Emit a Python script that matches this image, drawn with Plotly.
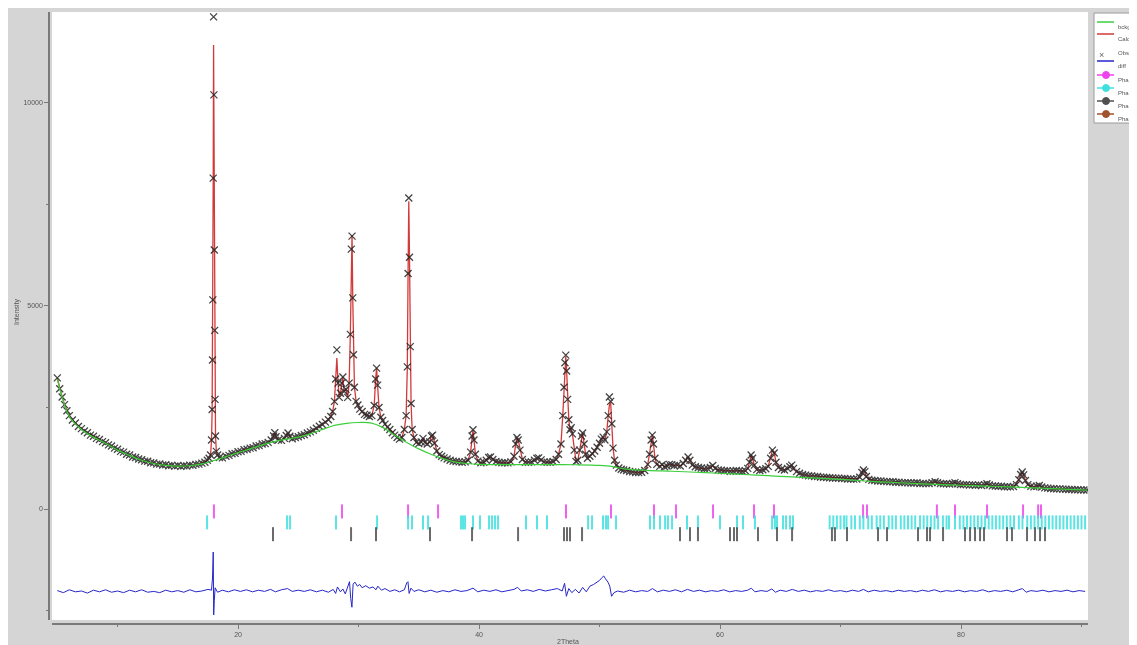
import plotly.graph_objects as go

# ---------------- data ----------------
# observed pattern: (2theta, intensity)
obs_points = [
    (5.0, 3230), (5.2, 2960), (5.4, 2760), (5.6, 2570), (5.8, 2420), (6.0, 2300), (6.25, 2190), (6.5, 2120),
    (6.75, 2030), (7.0, 1980), (7.25, 1920), (7.5, 1880), (7.75, 1820), (8.0, 1790), (8.25, 1740), (8.5, 1710),
    (8.75, 1660), (9.0, 1630), (9.25, 1580), (9.5, 1550), (9.75, 1500), (10.0, 1470), (10.25, 1420), (10.5, 1400),
    (10.75, 1350), (11.0, 1330), (11.25, 1280), (11.5, 1270), (11.75, 1230), (12.0, 1215), (12.25, 1180), (12.5, 1175),
    (12.75, 1140), (13.0, 1135), (13.25, 1105), (13.5, 1110), (13.75, 1085), (14.0, 1090), (14.25, 1065), (14.5, 1075),
    (14.75, 1055), (15.0, 1070), (15.25, 1050), (15.5, 1065), (15.75, 1060), (16.0, 1080), (16.25, 1075), (16.5, 1100),
    (16.75, 1105), (17.0, 1130), (17.25, 1150), (17.45, 1200), (17.6, 1250), (17.72, 1330), (17.8, 1700), (17.85, 2450),
    (17.88, 3670), (17.91, 5150), (17.94, 8150), (17.97, 12120), (18.0, 10200), (18.03, 6380), (18.06, 4400), (18.09, 2700),
    (18.13, 1800), (18.2, 1420), (18.3, 1330), (18.45, 1270), (18.7, 1260), (19.0, 1300), (19.25, 1320), (19.5, 1360),
    (19.75, 1370), (20.0, 1410), (20.25, 1420), (20.5, 1460), (20.75, 1470), (21.0, 1500), (21.25, 1510), (21.5, 1550),
    (21.75, 1560), (22.0, 1600), (22.25, 1610), (22.5, 1640), (22.75, 1700), (22.95, 1800), (23.05, 1880), (23.15, 1780),
    (23.35, 1700), (23.6, 1690), (23.85, 1740), (24.0, 1810), (24.15, 1870), (24.3, 1790), (24.5, 1730), (24.75, 1760),
    (25.0, 1780), (25.25, 1810), (25.5, 1830), (25.75, 1870), (26.0, 1900), (26.25, 1940), (26.5, 1990), (26.75, 2040),
    (27.0, 2080), (27.25, 2140), (27.5, 2200), (27.7, 2280), (27.85, 2400), (28.0, 2650), (28.1, 3200), (28.2, 3920),
    (28.3, 3100), (28.4, 2750), (28.5, 2850), (28.6, 3100), (28.7, 3250), (28.8, 2900), (28.95, 2950), (29.1, 2750),
    (29.22, 3100), (29.32, 4300), (29.4, 6400), (29.46, 6720), (29.52, 5200), (29.58, 3800), (29.66, 3000), (29.8, 2650),
    (29.95, 2560), (30.1, 2460), (30.3, 2400), (30.5, 2330), (30.7, 2310), (30.9, 2280), (31.1, 2300), (31.3, 2550),
    (31.42, 3200), (31.5, 3470), (31.58, 3050), (31.7, 2500), (31.85, 2260), (32.0, 2180), (32.2, 2090), (32.4, 2020),
    (32.6, 1960), (32.8, 1880), (33.0, 1820), (33.2, 1760), (33.4, 1720), (33.6, 1760), (33.8, 1960), (33.95, 2300),
    (34.05, 3500), (34.11, 5800), (34.17, 7660), (34.23, 6200), (34.29, 4000), (34.36, 2600), (34.45, 1960), (34.6, 1760),
    (34.8, 1640), (35.0, 1610), (35.2, 1650), (35.35, 1740), (35.5, 1640), (35.7, 1600), (35.9, 1650), (36.05, 1800),
    (36.15, 1820), (36.3, 1620), (36.5, 1430), (36.7, 1340), (36.9, 1300), (37.1, 1260), (37.35, 1230), (37.6, 1200),
    (37.85, 1180), (38.1, 1170), (38.35, 1160), (38.6, 1150), (38.85, 1160), (39.1, 1200), (39.3, 1400), (39.42, 1800),
    (39.5, 1950), (39.58, 1700), (39.7, 1350), (39.9, 1180), (40.15, 1140), (40.4, 1150), (40.6, 1200), (40.8, 1270),
    (40.95, 1280), (41.15, 1220), (41.4, 1170), (41.65, 1150), (41.9, 1140), (42.15, 1140), (42.4, 1135), (42.65, 1160),
    (42.9, 1300), (43.05, 1600), (43.15, 1760), (43.25, 1700), (43.4, 1450), (43.6, 1220), (43.85, 1150), (44.1, 1150),
    (44.35, 1160), (44.6, 1200), (44.8, 1250), (44.95, 1260), (45.15, 1210), (45.4, 1160), (45.65, 1150), (45.9, 1150),
    (46.15, 1170), (46.4, 1220), (46.6, 1350), (46.8, 1600), (46.95, 2300), (47.05, 3000), (47.13, 3600), (47.2, 3790),
    (47.27, 3400), (47.35, 2700), (47.45, 2200), (47.55, 1950), (47.65, 2000), (47.75, 1850), (47.9, 1450), (48.05, 1170),
    (48.2, 1200), (48.35, 1450), (48.5, 1800), (48.6, 1870), (48.72, 1600), (48.85, 1350), (49.0, 1250), (49.2, 1300),
    (49.4, 1360), (49.6, 1430), (49.8, 1520), (50.0, 1620), (50.15, 1720), (50.3, 1770), (50.45, 1700), (50.6, 1900),
    (50.72, 2300), (50.82, 2760), (50.92, 2650), (51.02, 2100), (51.12, 1500), (51.25, 1200), (51.4, 1080), (51.6, 1010),
    (51.8, 980), (52.0, 960), (52.25, 950), (52.5, 925), (52.75, 915), (53.0, 900), (53.25, 895), (53.5, 905),
    (53.75, 950), (54.0, 1100), (54.15, 1350), (54.28, 1700), (54.38, 1820), (54.48, 1600), (54.6, 1250), (54.75, 1100),
    (55.0, 1050), (55.2, 1090), (55.4, 1040), (55.6, 1060), (55.8, 1100), (56.0, 1090), (56.2, 1070), (56.45, 1080),
    (56.7, 1060), (56.95, 1120), (57.15, 1200), (57.35, 1280), (57.5, 1200), (57.7, 1080), (57.95, 1040), (58.2, 1020),
    (58.45, 1010), (58.7, 990), (58.95, 1000), (59.2, 1020), (59.4, 1070), (59.6, 1000), (59.85, 960), (60.1, 955),
    (60.35, 940), (60.6, 945), (60.85, 930), (61.1, 935), (61.35, 950), (61.6, 935), (61.85, 930), (62.1, 940),
    (62.3, 1000), (62.45, 1150), (62.58, 1330), (62.7, 1250), (62.85, 1080), (63.05, 970), (63.3, 950), (63.55, 965),
    (63.8, 990), (64.0, 1050), (64.2, 1250), (64.35, 1450), (64.5, 1380), (64.65, 1150), (64.85, 1020), (65.1, 980),
    (65.35, 960), (65.6, 1000), (65.8, 1040), (65.95, 1080), (66.1, 1000), (66.35, 920), (66.6, 880), (66.85, 850),
    (67.1, 835), (67.35, 820), (67.6, 815), (67.85, 800), (68.1, 800), (68.35, 785), (68.6, 780), (68.85, 775),
    (69.1, 770), (69.35, 765), (69.6, 760), (69.85, 760), (70.1, 750), (70.35, 750), (70.6, 740), (70.85, 740),
    (71.1, 735), (71.35, 740), (71.6, 780), (71.78, 900), (71.9, 960), (72.02, 920), (72.15, 800), (72.35, 730),
    (72.6, 710), (72.85, 700), (73.1, 690), (73.35, 690), (73.6, 680), (73.85, 675), (74.1, 670), (74.35, 670),
    (74.6, 660), (74.85, 660), (75.1, 650), (75.35, 650), (75.6, 645), (75.85, 640), (76.1, 640), (76.35, 645),
    (76.6, 630), (76.85, 630), (77.1, 625), (77.35, 630), (77.6, 650), (77.85, 670), (78.05, 650), (78.3, 630),
    (78.55, 620), (78.8, 620), (79.05, 615), (79.3, 630), (79.5, 650), (79.7, 620), (79.95, 605), (80.2, 600),
    (80.45, 600), (80.7, 590), (80.95, 595), (81.2, 585), (81.45, 590), (81.7, 580), (81.95, 600), (82.15, 620),
    (82.35, 590), (82.6, 570), (82.85, 565), (83.1, 560), (83.35, 560), (83.6, 550), (83.85, 550), (84.1, 545),
    (84.35, 555), (84.6, 600), (84.8, 720), (84.95, 850), (85.08, 910), (85.2, 840), (85.35, 700), (85.55, 600),
    (85.8, 560), (86.05, 545), (86.3, 560), (86.5, 580), (86.7, 540), (86.95, 520), (87.2, 515), (87.45, 505),
    (87.7, 500), (87.95, 495), (88.2, 495), (88.45, 490), (88.7, 485), (88.95, 480), (89.2, 480), (89.45, 475),
    (89.7, 472), (89.95, 470), (90.2, 468), (90.45, 466),
]

# calculated profile follows the observed points except at the peak tops
calc_peak_tops = [(17.97, 11430), (18.0, 9900), (28.2, 3720), (29.46, 6750),
                  (34.17, 7580), (47.2, 3760), (50.82, 2560)]

# background curve
bkg_points = [
    (5.0, 3200), (6.0, 2280), (7.0, 1960), (8.0, 1770), (9.0, 1620), (10.0, 1450), (11.0, 1320), (12.0, 1200),
    (13.0, 1120), (14.0, 1075), (15.0, 1055), (16.0, 1065), (17.0, 1110), (18.0, 1195), (19.0, 1290), (20.0, 1390),
    (21.0, 1480), (22.0, 1580), (23.0, 1660), (24.0, 1720), (25.0, 1770), (26.0, 1850), (27.0, 1960), (28.0, 2060),
    (29.0, 2110), (30.0, 2130), (31.0, 2120), (32.0, 2010), (33.0, 1820), (34.0, 1640), (35.0, 1480), (36.0, 1350),
    (37.0, 1240), (38.0, 1160), (39.0, 1120), (40.0, 1100), (42.0, 1095), (44.0, 1095), (46.0, 1095), (48.0, 1090),
    (50.0, 1075), (51.0, 1050), (52.0, 990), (54.0, 950), (56.0, 930), (58.0, 905), (60.0, 880), (62.0, 850),
    (64.0, 820), (66.0, 790), (68.0, 760), (70.0, 730), (72.0, 690), (74.0, 660), (76.0, 630), (78.0, 605),
    (80.0, 585), (82.0, 565), (84.0, 545), (86.0, 520), (88.0, 495), (90.45, 466),
]

# difference curve (obs - calc, offset)
diff_points = [
    (5.0, -2010), (5.5, -2060), (6.0, -1990), (6.5, -2040), (7.0, -2020), (7.5, -2070), (8.0, -2000), (8.5, -2040),
    (9.0, -1990), (9.5, -2050), (10.0, -2020), (10.5, -2060), (11.0, -2000), (11.5, -2040), (12.0, -1990), (12.5, -2050),
    (13.0, -2030), (13.5, -2060), (14.0, -2000), (14.5, -2040), (15.0, -2010), (15.5, -2050), (16.0, -1990), (16.5, -2040),
    (17.0, -2020), (17.5, -1980), (17.8, -2000), (17.88, -1700), (17.94, -1060), (17.98, -2610), (18.03, -2250), (18.1, -1940),
    (18.3, -2050), (18.7, -2000), (19.2, -2040), (19.7, -1990), (20.2, -2030), (20.7, -1990), (21.2, -2040), (21.7, -2000),
    (22.2, -2030), (22.7, -1980), (23.1, -2040), (23.6, -1990), (24.1, -1960), (24.5, -2030), (25.0, -2000), (25.5, -2030),
    (26.0, -1990), (26.5, -2040), (27.0, -2000), (27.5, -2050), (27.9, -1980), (28.1, -2080), (28.25, -1920), (28.5, -2040),
    (28.7, -1970), (28.9, -2090), (29.1, -1880), (29.25, -1790), (29.35, -2200), (29.45, -2420), (29.55, -1850), (29.7, -1800),
    (29.9, -1900), (30.1, -1860), (30.3, -1940), (30.6, -1890), (30.9, -1950), (31.2, -1920), (31.45, -1990), (31.6, -1900),
    (31.9, -2000), (32.2, -1960), (32.6, -2030), (33.0, -1990), (33.4, -2040), (33.8, -1990), (34.0, -1820), (34.1, -1790),
    (34.2, -2080), (34.35, -1950), (34.6, -2030), (35.0, -1990), (35.5, -2040), (36.0, -2000), (36.5, -2050), (37.0, -2010),
    (37.5, -2040), (38.0, -1990), (38.5, -2030), (39.0, -2010), (39.5, -1950), (39.9, -2040), (40.4, -2000), (40.9, -2030),
    (41.4, -1990), (41.9, -2040), (42.4, -2010), (42.9, -1980), (43.2, -1930), (43.5, -2020), (44.0, -1990), (44.5, -2030),
    (45.0, -1980), (45.5, -2020), (46.0, -1990), (46.5, -1960), (46.9, -2020), (47.1, -1830), (47.25, -2150), (47.45, -1960),
    (47.7, -2060), (48.0, -1980), (48.3, -2070), (48.6, -1930), (48.9, -2040), (49.2, -1900), (49.5, -1860), (49.8, -1800),
    (50.0, -1760), (50.2, -1690), (50.35, -1650), (50.5, -1720), (50.7, -1800), (50.85, -1900), (51.0, -2150), (51.2, -2060),
    (51.5, -2020), (52.0, -2050), (52.5, -2000), (53.0, -2040), (53.5, -2010), (54.0, -2030), (54.4, -1960), (54.8, -2040),
    (55.3, -2000), (55.8, -2030), (56.3, -1990), (56.8, -2040), (57.3, -1980), (57.8, -2030), (58.3, -2000), (58.8, -2040),
    (59.3, -2010), (59.8, -2030), (60.3, -1990), (60.8, -2040), (61.3, -2010), (61.8, -2030), (62.3, -2000), (62.6, -1950),
    (62.9, -2040), (63.4, -2010), (63.9, -2030), (64.3, -1970), (64.6, -2050), (65.0, -2000), (65.5, -2030), (66.0, -1980),
    (66.5, -2030), (67.0, -2000), (67.5, -2040), (68.0, -2010), (68.5, -2030), (69.0, -1990), (69.5, -2030), (70.0, -2010),
    (70.5, -2040), (71.0, -2000), (71.5, -2030), (71.9, -1980), (72.3, -2040), (72.8, -2000), (73.3, -2030), (73.8, -2010),
    (74.3, -2040), (74.8, -2000), (75.3, -2030), (75.8, -2010), (76.3, -2040), (76.8, -2000), (77.3, -2030), (77.8, -1990),
    (78.3, -2040), (78.8, -2010), (79.3, -2030), (79.8, -2000), (80.3, -2040), (80.8, -2010), (81.3, -2030), (81.8, -1990),
    (82.3, -2040), (82.8, -2010), (83.3, -2030), (83.8, -2000), (84.3, -2040), (84.8, -1990), (85.1, -1960), (85.4, -2050),
    (85.8, -2010), (86.3, -2030), (86.8, -2000), (87.3, -2040), (87.8, -2010), (88.3, -2030), (88.8, -2000), (89.3, -2040),
    (89.8, -2010), (90.3, -2030),
]

# reflection positions (2theta) of each phase
phase1_pos = [18.0, 28.63, 34.11, 36.6, 47.22, 50.95, 54.52, 56.35, 59.42, 62.82, 64.48, 71.87, 72.2,
              78.0, 79.5, 82.16, 85.15, 86.4, 86.64]
phase2_pos = [17.43, 24.07, 24.32, 28.13, 31.54, 34.11, 34.44, 35.35, 35.77, 38.5, 38.67, 38.84, 39.5,
              40.08, 40.83, 41.08, 41.33, 41.58, 43.9, 44.81, 45.64, 49.05, 49.38, 50.29, 50.54, 50.71, 51.37,
              54.19, 54.52, 55.02, 55.44, 55.68, 56.02, 57.26, 58.17, 60.0, 61.41, 61.91, 62.9, 64.32, 64.56,
              64.73, 65.23, 65.48, 65.81, 66.06,
              69.1, 69.4, 69.7, 70.0, 70.3, 70.5, 70.9, 71.2, 71.6, 71.9, 72.3, 72.6, 73.0, 73.3, 73.6, 74.0,
              74.3, 74.6, 75.0, 75.3, 75.6, 75.9, 76.2, 76.6, 76.9, 77.2, 77.5, 77.8, 78.1, 78.5, 78.8, 79.0,
              79.5, 79.9, 80.2, 80.5, 80.8, 81.1, 81.4, 81.7, 82.0, 82.3, 82.6, 82.9, 83.2, 83.5, 83.8, 84.1,
              84.4, 84.8, 85.1, 85.5, 85.8, 86.1, 86.4, 86.7, 87.0, 87.3, 87.6, 87.9, 88.2, 88.5, 88.8, 89.1,
              89.4, 89.7, 90.0, 90.3]
phase3_pos = [22.9, 29.38, 31.45, 35.93, 39.42, 43.24, 47.05, 47.3, 47.55, 48.55, 56.68, 57.51, 58.17,
              60.83, 61.16, 61.41, 63.15, 64.73, 65.98, 69.29, 69.54, 70.54, 73.11, 73.86, 76.43, 77.18,
              77.43, 78.51, 80.33, 80.75, 81.16, 81.58, 81.91, 83.82, 84.23, 85.48, 86.14, 86.56, 86.97]
phase4_pos = []

legend_labels = ["bckgr", "Calc", "Obs", "diff", "Phase 1", "Phase 2", "Phase 3", "Phase 4"]
x_title = "2Theta"
y_title = "Intensity"

# ---------------- derived series ----------------
two_theta = [p[0] for p in obs_points]
obs = [p[1] for p in obs_points]
_tops = dict(calc_peak_tops)
calc = [_tops.get(t, v) for t, v in obs_points]
bkg_x = [p[0] for p in bkg_points]
bkg_y = [p[1] for p in bkg_points]
diff_x = [p[0] for p in diff_points]
diff_y = [p[1] for p in diff_points]

# ---------------- styling ----------------
W, H = 1137, 645
OFF = 8  # page margin of the browser: figure origin sits at (8, 8) in the screenshot


def px_x(p):
    return (p - OFF) / W


def px_y(p):
    return 1 - (p - OFF) / H


C_BKG = "#3ccf3c"
C_CALC = "#d23a3a"
C_OBS = "#222222"
C_DIFF = "#2626c8"
C_P1 = "#ee44ee"
C_P2 = "#3fe0e0"
C_P3 = "#505050"
C_P4 = "#a0522d"
FONT = "Liberation Sans"

fig = go.Figure()
fig.add_trace(go.Scatter(x=two_theta, y=calc, mode="lines", line=dict(color=C_CALC, width=1.3),
                         name="Calc", showlegend=False))
fig.add_trace(go.Scatter(x=two_theta, y=obs, mode="markers",
                         marker=dict(symbol="x-thin", size=7, color=C_OBS, line=dict(width=1.3, color=C_OBS)),
                         opacity=0.85, name="Obs", showlegend=False))
fig.add_trace(go.Scatter(x=bkg_x, y=bkg_y, mode="lines", line=dict(color=C_BKG, width=1.2, shape="spline"),
                         name="bckgr", showlegend=False))
fig.add_trace(go.Scatter(x=diff_x, y=diff_y, mode="lines", line=dict(color=C_DIFF, width=1),
                         name="diff", showlegend=False))

phase_levels = [-60, -330, -620, -900]
for pos, lvl, col, nm in zip([phase1_pos, phase2_pos, phase3_pos, phase4_pos], phase_levels,
                             [C_P1, C_P2, C_P3, C_P4], legend_labels[4:]):
    fig.add_trace(go.Scatter(x=pos, y=[lvl] * len(pos), mode="markers",
                             marker=dict(symbol="line-ns", size=10, color=col, line=dict(width=2, color=col)),
                             opacity=0.85, name=nm, showlegend=False))

axis_font = dict(family=FONT, size=7, color="#555555")

fig.update_layout(
    width=W, height=H,
    margin=dict(l=0, r=0, t=0, b=0),
    paper_bgcolor="#d5d5d5",
    plot_bgcolor="#ffffff",
    showlegend=False,
    font=dict(family=FONT, size=7, color="#555555"),
    xaxis=dict(domain=[px_x(52), px_x(1088)], range=[4.56, 90.54], anchor="free", position=px_y(624),
               showgrid=False, zeroline=False, showline=True, linecolor="#7a7a7a", linewidth=1.5,
               ticks="outside", ticklen=4, tickcolor="#7a7a7a", tick0=0, dtick=20,
               minor=dict(ticks="outside", ticklen=2, tickcolor="#7a7a7a", dtick=10, tick0=0, showgrid=False),
               tickfont=axis_font),
    yaxis=dict(domain=[px_y(620), px_y(12)], range=[-2734, 12241], anchor="free", position=px_x(49),
               showgrid=False, zeroline=False, showline=True, linecolor="#7a7a7a", linewidth=1.5,
               ticks="outside", ticklen=4, tickcolor="#7a7a7a", tick0=0, dtick=5000, tickformat="d",
               minor=dict(ticks="outside", ticklen=2, tickcolor="#7a7a7a", dtick=2500, tick0=0, showgrid=False),
               tickfont=axis_font),
)

shapes = []
annotations = []

# axis titles
annotations.append(dict(text=y_title, xref="paper", yref="paper", x=px_x(11), y=px_y(312), textangle=-90,
                        showarrow=False, font=dict(family=FONT, size=7, color="#555555")))
annotations.append(dict(text=x_title, xref="paper", yref="paper", x=px_x(568), y=px_y(636), yanchor="top",
                        showarrow=False, font=dict(family=FONT, size=7, color="#555555")))

# legend box (drawn by hand to match the narrow swatches)
shapes.append(dict(type="rect", xref="paper", yref="paper", x0=px_x(1094), x1=px_x(1150), y0=px_y(123), y1=px_y(13),
                   fillcolor="#ffffff", line=dict(color="#9a9a9a", width=1)))
legend_rows = [22, 34, 48, 61, 75, 88, 101, 114]
legend_cols = [C_BKG, C_CALC, C_OBS, C_DIFF, C_P1, C_P2, C_P3, C_P4]
for i, (row, col, lab) in enumerate(zip(legend_rows, legend_cols, legend_labels)):
    if lab == "Obs":
        annotations.append(dict(text="×", xref="paper", yref="paper", x=px_x(1106), y=px_y(row),
                                showarrow=False, font=dict(family=FONT, size=9, color="#666666")))
    else:
        shapes.append(dict(type="line", xref="paper", yref="paper", x0=px_x(1097), x1=px_x(1114),
                           y0=px_y(row), y1=px_y(row), line=dict(color=col, width=1.5)))
        if i >= 4:
            shapes.append(dict(type="circle", xref="paper", yref="paper", xsizemode="pixel", ysizemode="pixel",
                               xanchor=px_x(1106), yanchor=px_y(row), x0=-3.5, x1=3.5, y0=-3.5, y1=3.5,
                               fillcolor=col, line=dict(color=col, width=1)))
    annotations.append(dict(text=lab, xref="paper", yref="paper", x=px_x(1116), y=px_y(row), xanchor="left",
                            showarrow=False, font=dict(family=FONT, size=6, color="#555555")))

fig.update_layout(shapes=shapes, annotations=annotations)

fig.write_html("out.html")
